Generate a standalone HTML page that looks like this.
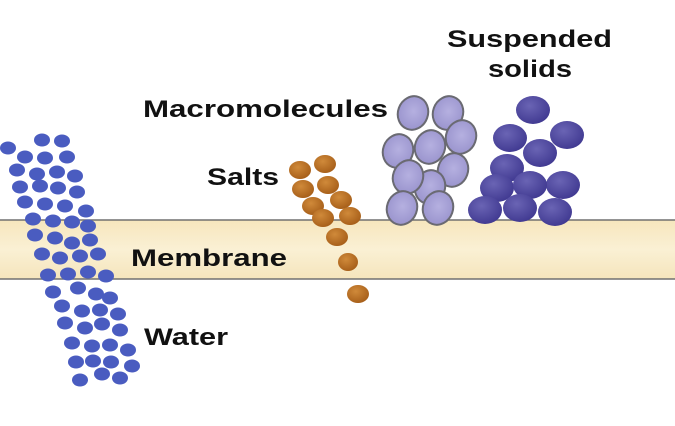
<!DOCTYPE html>
<html><head><style>html,body{margin:0;padding:0;background:#fff}svg{display:block}</style></head><body>
<svg width="675" height="426" viewBox="0 0 675 426" xmlns="http://www.w3.org/2000/svg">
<defs>
<linearGradient id="mb" x1="0" y1="0" x2="0" y2="1"><stop offset="0" stop-color="#f6e6bd"/><stop offset="0.5" stop-color="#faf0d4"/><stop offset="1" stop-color="#f5e5bc"/></linearGradient>
<radialGradient id="ss" cx="0.4" cy="0.35" r="0.7"><stop offset="0" stop-color="#6a64b4"/><stop offset="1" stop-color="#3f3890"/></radialGradient>
<radialGradient id="mm" cx="0.5" cy="0.45" r="0.6"><stop offset="0" stop-color="#b5b0e0"/><stop offset="1" stop-color="#9892cc"/></radialGradient>
<radialGradient id="sa" cx="0.4" cy="0.35" r="0.7"><stop offset="0" stop-color="#d08a3a"/><stop offset="1" stop-color="#a55d18"/></radialGradient>
</defs>
<rect x="0" y="220" width="675" height="59" fill="url(#mb)"/>
<line x1="0" y1="220" x2="675" y2="220" stroke="#707070" stroke-width="1.5"/>
<line x1="0" y1="279" x2="675" y2="279" stroke="#707070" stroke-width="1.5"/>
<g fill="#4a5cc0">
<ellipse cx="8" cy="148" rx="8" ry="6.5"/><ellipse cx="42" cy="140" rx="8" ry="6.5"/><ellipse cx="62" cy="141" rx="8" ry="6.5"/>
<ellipse cx="25" cy="157" rx="8" ry="6.5"/><ellipse cx="45" cy="158" rx="8" ry="6.5"/><ellipse cx="67" cy="157" rx="8" ry="6.5"/>
<ellipse cx="17" cy="170" rx="8" ry="6.5"/><ellipse cx="37" cy="174" rx="8" ry="6.5"/><ellipse cx="57" cy="172" rx="8" ry="6.5"/><ellipse cx="75" cy="176" rx="8" ry="6.5"/>
<ellipse cx="20" cy="187" rx="8" ry="6.5"/><ellipse cx="40" cy="186" rx="8" ry="6.5"/><ellipse cx="58" cy="188" rx="8" ry="6.5"/><ellipse cx="77" cy="192" rx="8" ry="6.5"/>
<ellipse cx="25" cy="202" rx="8" ry="6.5"/><ellipse cx="45" cy="204" rx="8" ry="6.5"/><ellipse cx="65" cy="206" rx="8" ry="6.5"/><ellipse cx="86" cy="211" rx="8" ry="6.5"/>
<ellipse cx="33" cy="219" rx="8" ry="6.5"/><ellipse cx="53" cy="221" rx="8" ry="6.5"/><ellipse cx="72" cy="222" rx="8" ry="6.5"/><ellipse cx="88" cy="226" rx="8" ry="6.5"/>
<ellipse cx="35" cy="235" rx="8" ry="6.5"/><ellipse cx="55" cy="238" rx="8" ry="6.5"/><ellipse cx="72" cy="243" rx="8" ry="6.5"/><ellipse cx="90" cy="240" rx="8" ry="6.5"/>
<ellipse cx="42" cy="254" rx="8" ry="6.5"/><ellipse cx="60" cy="258" rx="8" ry="6.5"/><ellipse cx="80" cy="256" rx="8" ry="6.5"/><ellipse cx="98" cy="254" rx="8" ry="6.5"/>
<ellipse cx="48" cy="275" rx="8" ry="6.5"/><ellipse cx="68" cy="274" rx="8" ry="6.5"/><ellipse cx="88" cy="272" rx="8" ry="6.5"/><ellipse cx="106" cy="276" rx="8" ry="6.5"/>
<ellipse cx="53" cy="292" rx="8" ry="6.5"/><ellipse cx="78" cy="288" rx="8" ry="6.5"/><ellipse cx="96" cy="294" rx="8" ry="6.5"/><ellipse cx="110" cy="298" rx="8" ry="6.5"/>
<ellipse cx="62" cy="306" rx="8" ry="6.5"/><ellipse cx="82" cy="311" rx="8" ry="6.5"/><ellipse cx="100" cy="310" rx="8" ry="6.5"/><ellipse cx="118" cy="314" rx="8" ry="6.5"/>
<ellipse cx="65" cy="323" rx="8" ry="6.5"/><ellipse cx="85" cy="328" rx="8" ry="6.5"/><ellipse cx="102" cy="324" rx="8" ry="6.5"/><ellipse cx="120" cy="330" rx="8" ry="6.5"/>
<ellipse cx="72" cy="343" rx="8" ry="6.5"/><ellipse cx="92" cy="346" rx="8" ry="6.5"/><ellipse cx="110" cy="345" rx="8" ry="6.5"/><ellipse cx="128" cy="350" rx="8" ry="6.5"/>
<ellipse cx="76" cy="362" rx="8" ry="6.5"/><ellipse cx="93" cy="361" rx="8" ry="6.5"/><ellipse cx="111" cy="362" rx="8" ry="6.5"/><ellipse cx="132" cy="366" rx="8" ry="6.5"/>
<ellipse cx="80" cy="380" rx="8" ry="6.5"/><ellipse cx="102" cy="374" rx="8" ry="6.5"/><ellipse cx="120" cy="378" rx="8" ry="6.5"/>
</g>
<g fill="url(#sa)">
<ellipse cx="300" cy="170" rx="11" ry="9"/><ellipse cx="325" cy="164" rx="11" ry="9"/>
<ellipse cx="303" cy="189" rx="11" ry="9"/><ellipse cx="328" cy="185" rx="11" ry="9"/>
<ellipse cx="313" cy="206" rx="11" ry="9"/><ellipse cx="341" cy="200" rx="11" ry="9"/>
<ellipse cx="323" cy="218" rx="11" ry="9"/><ellipse cx="350" cy="216" rx="11" ry="9"/>
<ellipse cx="337" cy="237" rx="11" ry="9"/><ellipse cx="348" cy="262" rx="10" ry="9"/><ellipse cx="358" cy="294" rx="11" ry="9"/>
</g>
<g fill="url(#mm)" stroke="#6a6a72" stroke-width="2">
<ellipse cx="413" cy="113" rx="15" ry="17" transform="rotate(20 413 113)"/>
<ellipse cx="448" cy="113" rx="15" ry="17" transform="rotate(20 448 113)"/>
<ellipse cx="461" cy="137" rx="15" ry="17" transform="rotate(20 461 137)"/>
<ellipse cx="398" cy="151" rx="15" ry="17" transform="rotate(20 398 151)"/>
<ellipse cx="430" cy="147" rx="15" ry="17" transform="rotate(20 430 147)"/>
<ellipse cx="453" cy="170" rx="15" ry="17" transform="rotate(20 453 170)"/>
<ellipse cx="430" cy="187" rx="15" ry="17" transform="rotate(20 430 187)"/>
<ellipse cx="408" cy="177" rx="15" ry="17" transform="rotate(20 408 177)"/>
<ellipse cx="402" cy="208" rx="15" ry="17" transform="rotate(20 402 208)"/>
<ellipse cx="438" cy="208" rx="15" ry="17" transform="rotate(20 438 208)"/>
</g>
<g fill="url(#ss)">
<ellipse cx="533" cy="110" rx="17" ry="14"/>
<ellipse cx="510" cy="138" rx="17" ry="14"/><ellipse cx="567" cy="135" rx="17" ry="14"/>
<ellipse cx="540" cy="153" rx="17" ry="14"/>
<ellipse cx="507" cy="168" rx="17" ry="14"/><ellipse cx="563" cy="185" rx="17" ry="14"/>
<ellipse cx="497" cy="188" rx="17" ry="14"/><ellipse cx="530" cy="185" rx="17" ry="14"/>
<ellipse cx="485" cy="210" rx="17" ry="14"/><ellipse cx="520" cy="208" rx="17" ry="14"/><ellipse cx="555" cy="212" rx="17" ry="14"/>
</g>
<g font-family="Liberation Sans, Arial, sans-serif" font-weight="bold" font-size="24" fill="#111">
<text x="447" y="47" textLength="165" lengthAdjust="spacingAndGlyphs">Suspended</text>
<text x="488" y="77" textLength="84" lengthAdjust="spacingAndGlyphs">solids</text>
<text x="143" y="117" textLength="245" lengthAdjust="spacingAndGlyphs">Macromolecules</text>
<text x="207" y="185" textLength="72" lengthAdjust="spacingAndGlyphs">Salts</text>
<text x="131" y="266" textLength="156" lengthAdjust="spacingAndGlyphs">Membrane</text>
<text x="144" y="345" textLength="84" lengthAdjust="spacingAndGlyphs">Water</text>
</g>
</svg>
</body></html>
